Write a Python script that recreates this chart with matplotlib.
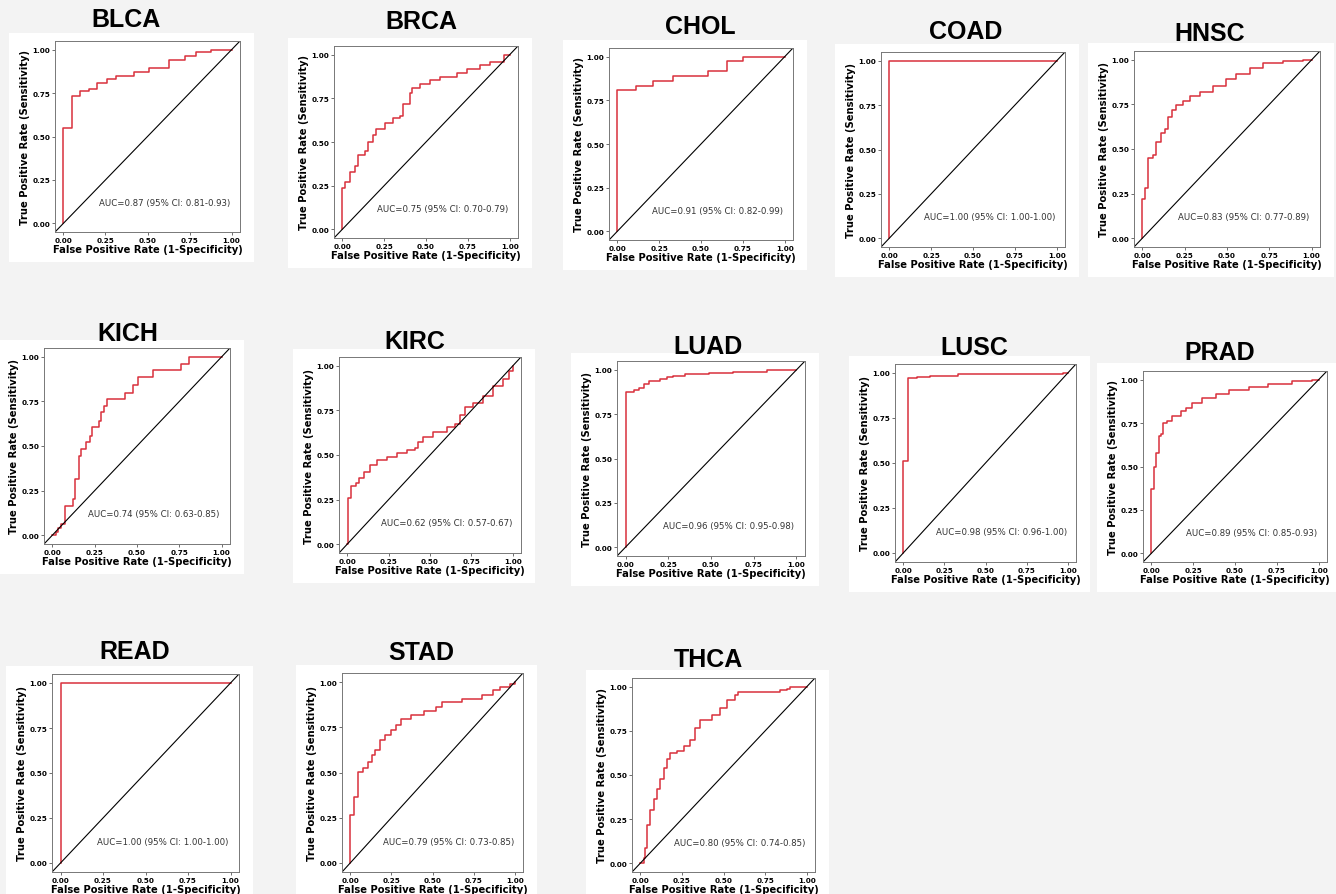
import matplotlib
matplotlib.use("Agg")
import matplotlib.pyplot as plt
from matplotlib.patches import Rectangle

# cancer types, in reading order
names = ["BLCA", "BRCA", "CHOL", "COAD", "HNSC",
         "KICH", "KIRC", "LUAD", "LUSC", "PRAD",
         "READ", "STAD", "THCA"]

auc_labels = ["AUC=0.87 (95% CI: 0.81-0.93)",
              "AUC=0.75 (95% CI: 0.70-0.79)",
              "AUC=0.91 (95% CI: 0.82-0.99)",
              "AUC=1.00 (95% CI: 1.00-1.00)",
              "AUC=0.83 (95% CI: 0.77-0.89)",
              "AUC=0.74 (95% CI: 0.63-0.85)",
              "AUC=0.62 (95% CI: 0.57-0.67)",
              "AUC=0.96 (95% CI: 0.95-0.98)",
              "AUC=0.98 (95% CI: 0.96-1.00)",
              "AUC=0.89 (95% CI: 0.85-0.93)",
              "AUC=1.00 (95% CI: 1.00-1.00)",
              "AUC=0.79 (95% CI: 0.73-0.85)",
              "AUC=0.80 (95% CI: 0.74-0.85)"]

# ROC curve vertices (step curves)
blca_fpr = [0, 0, 0.05, 0.10, 0.15, 0.20, 0.26, 0.31, 0.42, 0.51, 0.63, 0.72, 0.79, 0.88, 1.0]
blca_tpr = [0, 0.55, 0.735, 0.76, 0.775, 0.81, 0.83, 0.85, 0.87, 0.895, 0.94, 0.965, 0.985, 1.0, 1.0]

brca_fpr = [0, 0, 0.014, 0.044, 0.074, 0.094, 0.134, 0.154, 0.184, 0.204, 0.254, 0.304, 0.344,
            0.364, 0.404, 0.414, 0.464, 0.524, 0.584, 0.684, 0.744, 0.824, 0.884, 0.964, 1.0]
brca_tpr = [0, 0.238, 0.27, 0.33, 0.36, 0.425, 0.45, 0.50, 0.54, 0.575, 0.61, 0.635, 0.65,
            0.715, 0.78, 0.81, 0.83, 0.856, 0.87, 0.897, 0.92, 0.94, 0.96, 0.996, 1.0]

chol_fpr = [0, 0, 0.11, 0.216, 0.33, 0.54, 0.656, 0.75, 1.0]
chol_tpr = [0, 0.81, 0.833, 0.86, 0.89, 0.92, 0.975, 1.0, 1.0]

coad_fpr = [0, 0, 1.0]
coad_tpr = [0, 1.0, 1.0]

hnsc_fpr = [0, 0, 0.014, 0.034, 0.063, 0.083, 0.112, 0.132, 0.152, 0.172, 0.197, 0.24, 0.28,
            0.34, 0.418, 0.497, 0.556, 0.635, 0.714, 0.832, 0.95, 1.0]
hnsc_tpr = [0, 0.217, 0.28, 0.448, 0.467, 0.54, 0.587, 0.615, 0.68, 0.717, 0.748, 0.772, 0.80,
            0.822, 0.856, 0.893, 0.92, 0.957, 0.98, 0.993, 1.0, 1.0]

kich_fpr = [0, 0.02, 0.03, 0.05, 0.072, 0.124, 0.135, 0.155, 0.168, 0.197, 0.22, 0.232, 0.275,
            0.29, 0.304, 0.323, 0.43, 0.478, 0.507, 0.594, 0.758, 0.807, 1.0]
kich_tpr = [0, 0.02, 0.04, 0.06, 0.163, 0.20, 0.314, 0.445, 0.483, 0.52, 0.558, 0.605, 0.643,
            0.69, 0.727, 0.765, 0.80, 0.84, 0.887, 0.925, 0.962, 1.0, 1.0]

kirc_fpr = [0, 0.006, 0.02, 0.05, 0.07, 0.10, 0.14, 0.18, 0.24, 0.30, 0.36, 0.41, 0.43, 0.46,
            0.52, 0.60, 0.65, 0.68, 0.71, 0.76, 0.82, 0.88, 0.94, 0.98, 1.0]
kirc_tpr = [0, 0.26, 0.324, 0.343, 0.37, 0.407, 0.444, 0.472, 0.49, 0.51, 0.528, 0.537, 0.574,
            0.60, 0.63, 0.657, 0.676, 0.722, 0.768, 0.79, 0.833, 0.889, 0.926, 0.972, 1.0]

luad_fpr = [0, 0, 0.05, 0.08, 0.11, 0.14, 0.20, 0.24, 0.28, 0.35, 0.49, 0.63, 0.83, 1.0]
luad_tpr = [0, 0.876, 0.886, 0.90, 0.92, 0.938, 0.947, 0.957, 0.966, 0.976, 0.985, 0.989, 1.0, 1.0]

lusc_fpr = [0, 0, 0.03, 0.083, 0.16, 0.33, 0.97, 1.0]
lusc_tpr = [0, 0.51, 0.97, 0.978, 0.983, 0.993, 1.0, 1.0]

prad_fpr = [0, 0, 0.016, 0.026, 0.046, 0.056, 0.07, 0.095, 0.125, 0.175, 0.205, 0.245, 0.304,
            0.384, 0.463, 0.583, 0.70, 0.84, 0.96, 1.0]
prad_tpr = [0, 0.373, 0.50, 0.575, 0.677, 0.686, 0.752, 0.761, 0.79, 0.817, 0.836, 0.864, 0.892,
            0.92, 0.938, 0.957, 0.976, 0.994, 1.0, 1.0]

read_fpr = [0, 0, 1.0]
read_tpr = [0, 1.0, 1.0]

stad_fpr = [0, 0, 0.02, 0.05, 0.08, 0.11, 0.13, 0.15, 0.18, 0.21, 0.25, 0.28, 0.31, 0.37, 0.45,
            0.52, 0.56, 0.68, 0.80, 0.87, 0.91, 0.97, 1.0]
stad_tpr = [0, 0.266, 0.367, 0.505, 0.523, 0.56, 0.596, 0.624, 0.679, 0.706, 0.734, 0.761, 0.798,
            0.817, 0.84, 0.862, 0.89, 0.908, 0.927, 0.954, 0.972, 0.99, 1.0]

thca_fpr = [0, 0.02, 0.03, 0.04, 0.06, 0.08, 0.10, 0.12, 0.143, 0.163, 0.18, 0.22, 0.265, 0.30,
            0.327, 0.357, 0.43, 0.48, 0.52, 0.57, 0.59, 0.84, 0.88, 0.90, 1.0]
thca_tpr = [0, 0.03, 0.084, 0.215, 0.30, 0.364, 0.42, 0.477, 0.542, 0.589, 0.626, 0.636, 0.664, 0.70,
            0.766, 0.813, 0.84, 0.878, 0.925, 0.953, 0.972, 0.98, 0.99, 1.0, 1.0]

fprs = [blca_fpr, brca_fpr, chol_fpr, coad_fpr, hnsc_fpr, kich_fpr, kirc_fpr,
        luad_fpr, lusc_fpr, prad_fpr, read_fpr, stad_fpr, thca_fpr]
tprs = [blca_tpr, brca_tpr, chol_tpr, coad_tpr, hnsc_tpr, kich_tpr, kirc_tpr,
        luad_tpr, lusc_tpr, prad_tpr, read_tpr, stad_tpr, thca_tpr]

# layout: axes boxes in pixels (left, top, right, bottom) and title centres
W, H = 1336, 895
boxes = [(55, 42, 240, 233), (334, 47, 518, 239), (609, 49, 793, 241),
         (881, 53, 1065, 248), (1134, 52, 1320, 248),
         (44, 349, 230, 545), (339, 358, 521, 554), (617, 362, 805, 557),
         (895, 365, 1076, 563), (1143, 372, 1327, 563),
         (52, 675, 239, 873), (342, 674, 523, 873), (632, 679, 815, 873)]
title_pos = [(126, 20), (421, 22), (700, 27), (966, 32), (1210, 34),
             (128, 334), (415, 342), (708, 347), (974, 348), (1220, 353),
             (135, 652), (421, 653), (708, 660)]

fig = plt.figure(figsize=(W / 100, H / 100), dpi=100, facecolor="#f3f3f3")

for i, name in enumerate(names):
    l, t, r, b = boxes[i]
    # white background of each original sub-figure
    fig.patches.append(Rectangle(((l - 46) / W, 1 - (b + 30) / H), (r - l + 60) / W,
                                 (b - t + 38) / H, transform=fig.transFigure,
                                 facecolor="white", edgecolor="none", zorder=-5))
    ax = fig.add_axes([l / W, 1 - b / H, (r - l) / W, (b - t) / H])
    ax.set_zorder(2)
    ax.plot(fprs[i], tprs[i], drawstyle="steps-post", color="#d9303c", lw=1.1)
    ax.axline((0, 0), (1, 1), color="black", lw=0.8)
    ax.set_xlim(-0.05, 1.05)
    ax.set_ylim(-0.05, 1.05)
    ticks = [0, 0.25, 0.5, 0.75, 1.0]
    ax.set_xticks(ticks)
    ax.set_yticks(ticks)
    ax.set_xticklabels(["%.2f" % v for v in ticks], fontsize=5.2, fontweight="bold")
    ax.set_yticklabels(["%.2f" % v for v in ticks], fontsize=5.2, fontweight="bold")
    ax.tick_params(length=2, width=0.6, pad=1.5, color="#555555")
    for sp in ax.spines.values():
        sp.set_color("#777777")
        sp.set_linewidth(0.7)
    ax.set_xlabel("False Positive Rate (1-Specificity)", fontsize=7.2,
                  fontweight="bold", labelpad=0.5)
    ax.set_ylabel("True Positive Rate (Sensitivity)", fontsize=7.2,
                  fontweight="bold", labelpad=1.5)
    ax.text(0.6, 0.12, auc_labels[i], fontsize=6.2, color="#333333",
            ha="center", va="center")
    tx, ty = title_pos[i]
    fig.text(tx / W, 1 - ty / H, name, fontsize=18, fontweight="bold",
             family="Liberation Sans", ha="center", va="center")

fig.savefig("out.png", dpi=100, facecolor=fig.get_facecolor())
